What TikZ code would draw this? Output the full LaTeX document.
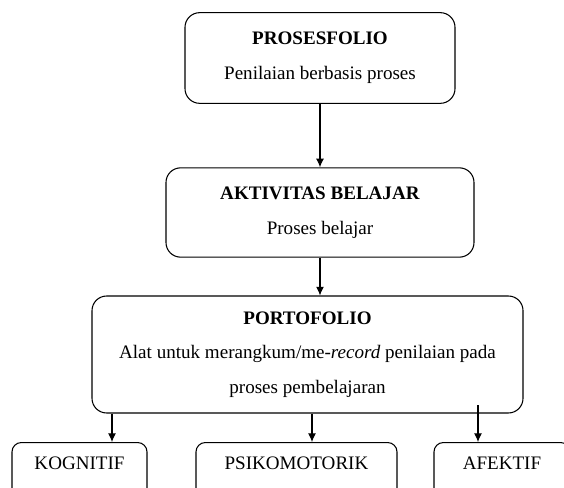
\documentclass[tikz,border=0pt]{standalone}
\usepackage{fontspec}
\setmainfont{Liberation Serif}
\usetikzlibrary{arrows.meta}
\begin{document}
\begin{tikzpicture}[x=0.75pt,y=-0.75pt,
  kotak/.style={draw,rounded corners=11pt,line width=0.8pt,align=center,inner sep=0pt,
    font=\fontsize{14.3}{26}\selectfont},
  kecil/.style={draw,rounded corners=7pt,line width=0.8pt,inner sep=0pt,anchor=north,
    text height=20pt,text depth=40pt,font=\fontsize{14.3}{17}\selectfont},
  panah/.style={-{Latex[length=6.5pt,width=6pt]},line width=0.8pt}]
  \useasboundingbox (0,0) rectangle (564,488);
  \clip (0,0) rectangle (564,488);
  % kotak utama
  \node[kotak,minimum width=202.5pt,minimum height=68pt] (proses) at (320,58)
    {\textbf{PROSESFOLIO}\\Penilaian berbasis proses};
  \node[kotak,minimum width=231pt,minimum height=67pt] (aktivitas) at (320,212.5)
    {\textbf{AKTIVITAS BELAJAR}\\Proses belajar};
  \node[kotak,minimum width=323.25pt,minimum height=87.75pt] (portofolio) at (307.5,354.5)
    {\textbf{PORTOFOLIO}\\Alat untuk merangkum/me-\textit{record} penilaian pada\\proses pembelajaran};
  % kotak bawah
  \node[kecil,minimum width=101.25pt] (kognitif) at (79.5,442) {KOGNITIF};
  \node[kecil,minimum width=150.75pt] (psikomotorik) at (296.5,442) {PSIKOMOTORIK};
  \node[kecil,minimum width=102pt] (afektif) at (502,442) {AFEKTIF};
  \coordinate (kiri) at (112,0);
  \coordinate (tengah) at (312,0);
  \coordinate (kanan) at (478,405);
  % panah
  \draw[panah] (proses) -- (aktivitas);
  \draw[panah] (aktivitas.south) -- (aktivitas.south |- portofolio.north);
  \draw[panah] (portofolio.south -| kiri) -- (kognitif.north -| kiri);
  \draw[panah] (portofolio.south -| tengah) -- (psikomotorik.north -| tengah);
  \draw[panah] (kanan) -- (kanan |- afektif.north);
\end{tikzpicture}
\end{document}
